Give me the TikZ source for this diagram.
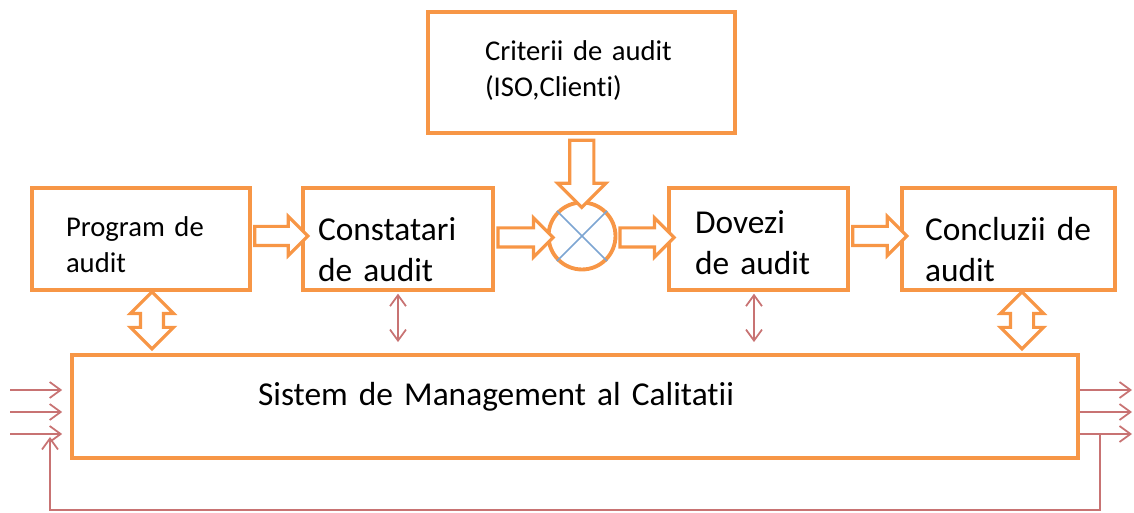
\documentclass[tikz,border=0pt]{standalone}
\usepackage{fontspec}
\setmainfont{Carlito}[RawFeature={-liga}]
\usetikzlibrary{arrows.meta,positioning,shapes.arrows,calc}
\definecolor{auditorange}{RGB}{247,150,70}
\definecolor{linkred}{RGB}{200,115,115}
\definecolor{crossblue}{RGB}{125,165,210}
\newcommand{\bigtxt}{\fontsize{19}{23}\selectfont\spaceskip=0.2em\relax}
\newcommand{\smalltxt}{\fontsize{16.3}{20.2}\selectfont\spaceskip=0.2em\relax}
\tikzset{
  box/.style={draw=auditorange, line width=2.2pt, fill=white, align=left, font=\bigtxt, text height=0.5cm},
  smallbox/.style={box, font=\smalltxt},
  mixer/.style={draw=auditorange, line width=2.2pt, fill=white, circle, minimum size=1.34cm, inner sep=0pt},
  hollowarrow/.style={single arrow, draw=auditorange, fill=white, line width=1.8pt, inner sep=0.16cm, single arrow head extend=0.2cm, minimum height=#1},
  bigdown/.style={hollowarrow=#1, inner sep=0.21cm, single arrow head extend=0.24cm, rotate=-90},
  fatboth/.style={double arrow, draw=auditorange, fill=white, line width=1.8pt, inner sep=0.2cm, double arrow head extend=0.2cm, minimum height=#1, rotate=90},
  barb/.tip={Straight Barb[length=0.22cm, width=0.32cm]},
  thinarrow/.style={draw=linkred, line width=1pt, -barb},
  thinboth/.style={draw=linkred, line width=1pt, barb-barb},
  feedback/.style={draw=linkred, line width=1pt, -barb}
}
\begin{document}
\begin{tikzpicture}[x=0.02cm, y=-0.02cm]
  \useasboundingbox (0,0) rectangle (1134,513);
  % top row
  \node[smallbox, minimum width=6.14cm, minimum height=2.42cm, inner xsep=1.14cm, text width=3.86cm, text depth=0.96cm] (crit) at (581.5,72.5) {Criterii de audit\\(ISO,Clienti)};
  \node[smallbox, minimum width=4.36cm, minimum height=2.04cm, inner xsep=0.68cm, text width=3.0cm, text depth=0.58cm] (prog) at (141,239) {Program de\\audit};
  \node[box, minimum width=3.8cm, minimum height=2.04cm, inner xsep=0.3cm, text width=3.2cm, text depth=0.42cm] (const) at (398,239) {Constatari\\de audit};
  \node[mixer] (mix) at (582,236) {};
  \node[box, minimum width=3.58cm, minimum height=2.04cm, inner xsep=0.52cm, text width=2.54cm, text depth=0.7cm] (dov) at (758.5,239) {Dovezi\\de audit};
  \node[box, minimum width=4.26cm, minimum height=2.04cm, inner xsep=0.46cm, text width=3.34cm, text depth=0.42cm] (concl) at (1008.5,239) {Concluzii de\\audit};
  % system
  \node[box, minimum width=20.12cm, minimum height=2.06cm, inner xsep=3.72cm, text width=12.68cm, text depth=0.52cm] (smc) at (575,406.5) {Sistem de Management al Calitatii};

  % cross inside the comparator
  \draw[crossblue, line width=0.9pt] (mix.45) -- (mix.225) (mix.135) -- (mix.315);

  % block arrows
  \node[hollowarrow=1.06cm] (p2c) at ($(prog.east)!0.5!(const.west)+(0,-3)$) {};
  \node[hollowarrow=1.1cm] (c2m) at ($(const.east)!0.5!(mix.west)$) {};
  \node[hollowarrow=1.08cm] (m2d) at ($(mix.east)!0.5!(dov.west)$) {};
  \node[hollowarrow=1.08cm] (d2k) at ($(dov.east)!0.5!(concl.west)+(0,-3)$) {};
  \node[bigdown=1.34cm] (k2m) at ($(crit.south)!0.5!(mix.north)$) {};
  \node[fatboth=1.14cm] (p2s) at ($(prog.south)+(11,28.5)$) {};
  \node[fatboth=1.14cm] (k2s) at ($(concl.south)+(13.5,28.5)$) {};

  % thin links to the system
  \draw[thinboth, shorten <=1pt, shorten >=0.22cm] (const.south) -- (const.south |- smc.north);
  \draw[thinboth, shorten <=1pt, shorten >=0.22cm] ([xshift=-0.09cm]dov.south) -- ([xshift=-0.09cm]dov.south |- smc.north);

  % inputs and outputs
  \coordinate (in1) at (10,390);
  \coordinate (in2) at (10,412);
  \coordinate (in3) at (10,434);
  \coordinate (out1) at (1132,390);
  \coordinate (out2) at (1132,412);
  \coordinate (out3) at (1132,434);
  \foreach \k in {1,2,3} {
    \draw[thinarrow, shorten >=0.16cm] (in\k) -- (in\k -| smc.west);
    \draw[thinarrow] (out\k -| smc.east) -- (out\k);
  }

  % feedback loop
  \coordinate (fbtap) at (1100,434);
  \coordinate (fbbase) at (0,510);
  \coordinate (fbend) at (50,437);
  \draw[feedback] (fbtap) -- (fbtap |- fbbase) -| (fbend);
\end{tikzpicture}
\end{document}
